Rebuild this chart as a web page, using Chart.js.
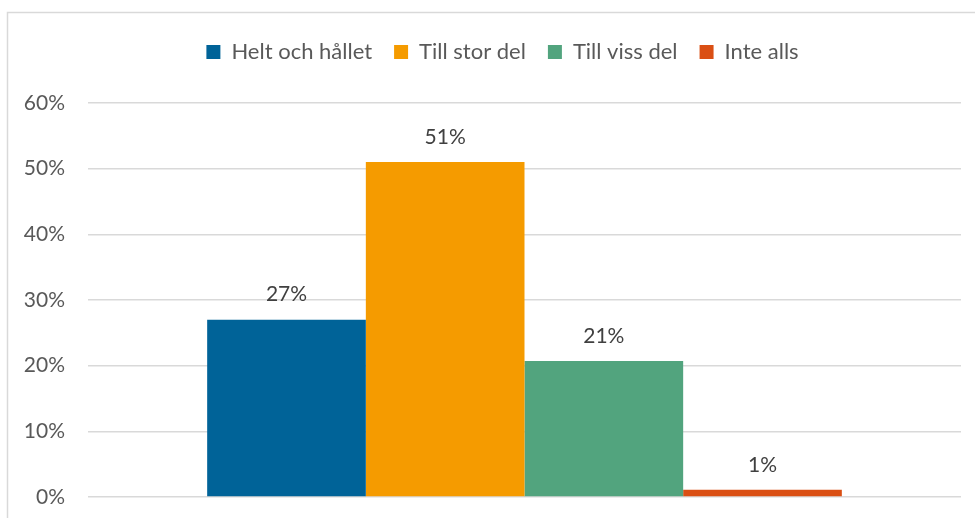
<!DOCTYPE html>
<html>
<head>
<meta charset="utf-8">
<script src="https://cdn.jsdelivr.net/npm/chart.js@4"></script>
<style>
  html, body { margin: 0; padding: 0; background: #fff; }
  #wrap { width: 975px; height: 518px; position: relative; }
</style>
</head>
<body>
<div id="wrap"><canvas id="chart" width="975" height="518"></canvas></div>
<script>
const categories = [''];
const seriesNames = ['Helt och hållet', 'Till stor del', 'Till viss del', 'Inte alls'];
const seriesValues = [27, 51, 20.7, 1.1];
const valueLabels = ['27%', '51%', '21%', '1%'];
const seriesColors = ['#006398', '#F59B00', '#52A47E', '#DA4F14'];

const yMax = 60;
const yStep = 10;

// outer frame like the Excel chart border
const framePlugin = {
  id: 'frame',
  beforeDraw(chart) {
    const ctx = chart.ctx;
    ctx.save();
    ctx.strokeStyle = '#d9d9d9';
    ctx.lineWidth = 1.5;
    ctx.strokeRect(7.5, 12.5, 1000, 600);
    ctx.restore();
  }
};

// value labels above each bar
const valueLabelPlugin = {
  id: 'valueLabels',
  afterDatasetsDraw(chart) {
    const ctx = chart.ctx;
    ctx.save();
    ctx.font = '21px Lato';
    ctx.fillStyle = '#404040';
    ctx.textAlign = 'center';
    ctx.textBaseline = 'middle';
    chart.data.datasets.forEach((ds, i) => {
      const bar = chart.getDatasetMeta(i).data[0];
      ctx.fillText(valueLabels[i], bar.x, bar.y - 25);
    });
    ctx.restore();
  }
};

// fixed legend block height, and nudge it right like the reference
const legendHeightPlugin = {
  id: 'legendHeight',
  afterInit(chart) {
    const legend = chart.legend;
    const origFit = legend.fit;
    legend.fit = function () {
      origFit.call(legend);
      this.height = 84;
    };
    const origDraw = legend.draw;
    legend.draw = function () {
      this.ctx.save();
      this.ctx.translate(22, 0);
      origDraw.call(legend);
      this.ctx.restore();
    };
  },
};

new Chart(document.getElementById('chart'), {
  type: 'bar',
  data: {
    labels: categories,
    datasets: seriesNames.map((name, i) => ({
      label: name,
      data: [seriesValues[i]],
      backgroundColor: seriesColors[i],
      borderWidth: 0,
    })),
  },
  options: {
    responsive: false,
    animation: false,
    categoryPercentage: 0.727,
    barPercentage: 1,
    layout: { padding: { left: 0, right: 14, top: 19, bottom: 21 } },
    plugins: {
      tooltip: { enabled: false },
      legend: {
        position: 'top',
        labels: {
          font: { family: 'Lato', size: 22 },
          color: '#595959',
          boxWidth: 14,
          boxHeight: 14,
          padding: 22,
        },
      },
    },
    scales: {
      x: {
        display: false,
      },
      y: {
        min: 0,
        max: yMax,
        border: { display: false },
        grid: { color: '#d9d9d9', lineWidth: 1.5, drawTicks: true, tickLength: 23, tickColor: 'rgba(0,0,0,0)' },
        ticks: {
          stepSize: yStep,
          padding: 0,
          color: '#595959',
          font: { family: 'Lato', size: 21 },
          callback: (v) => v + '%',
        },
        afterFit(scale) { scale.width = 88; },
      },
    },
  },
  plugins: [framePlugin, valueLabelPlugin, legendHeightPlugin],
});
</script>
</body>
</html>
